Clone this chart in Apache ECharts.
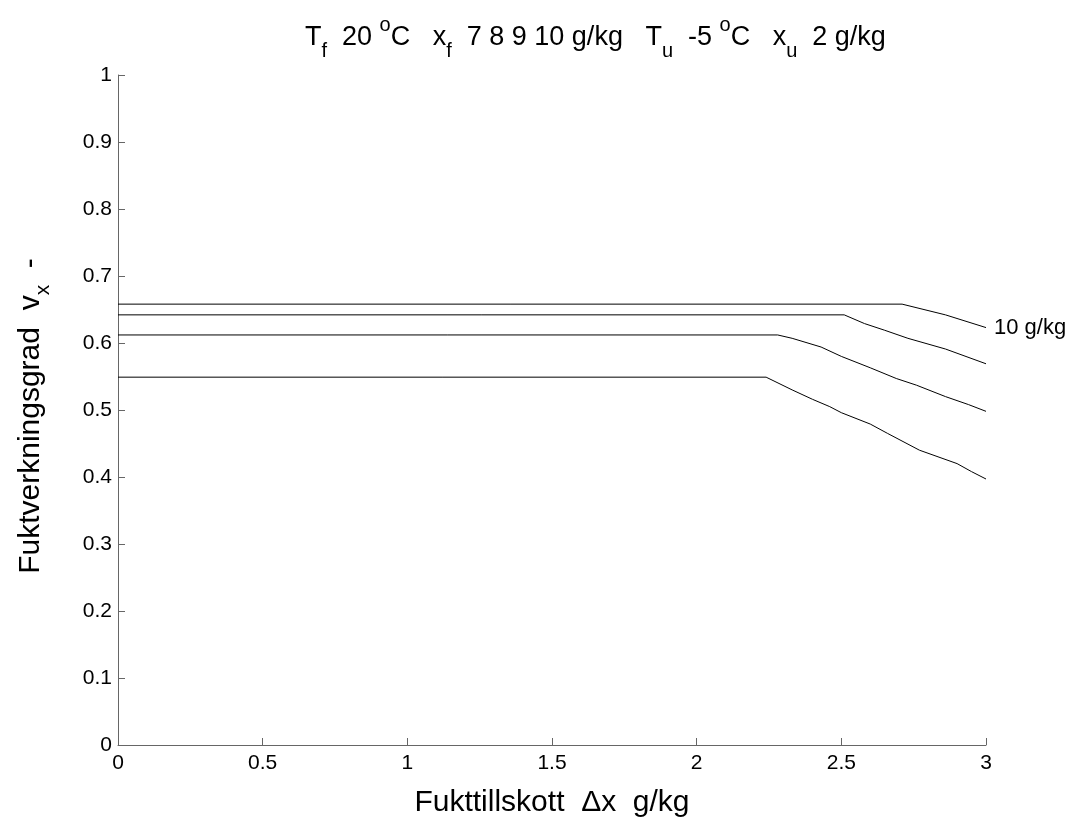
<!DOCTYPE html>
<html>
<head>
<meta charset="utf-8">
<script src="https://cdn.jsdelivr.net/npm/echarts@6/dist/echarts.min.js"></script>
<style>
  html, body { margin: 0; padding: 0; background: #fff; }
  #chart { width: 1084px; height: 827px; }
</style>
</head>
<body>
<div id="chart"></div>
<script>
// x_f = 10, 9, 8, 7 g/kg (top to bottom)
const line10 = [[0, 0.658], [2.71, 0.658], [2.86, 0.642], [3, 0.623]];
const line9 = [[0, 0.642], [2.51, 0.642], [2.58, 0.629], [2.65, 0.619], [2.73, 0.607], [2.86, 0.591], [3, 0.569]];
const line8 = [[0, 0.612], [2.28, 0.612], [2.33, 0.607], [2.43, 0.594], [2.5, 0.58], [2.6, 0.563], [2.69, 0.547], [2.76, 0.537], [2.86, 0.52], [2.94, 0.508], [3, 0.498]];
const line7 = [[0, 0.549], [2.24, 0.549], [2.33, 0.53], [2.4, 0.516], [2.46, 0.505], [2.5, 0.496], [2.6, 0.479], [2.66, 0.465], [2.77, 0.44], [2.9, 0.42], [2.95, 0.408], [3, 0.397]];
const seriesNames = ['10 g/kg', '9 g/kg', '8 g/kg', '7 g/kg'];
const seriesData = [line10, line9, line8, line7];

const FONT = 'Liberation Sans, Arial, sans-serif';
const chart = echarts.init(document.getElementById('chart'));

const option = {
    backgroundColor: '#fff',
    animation: false,
    textStyle: { fontFamily: FONT, color: '#000' },
    title: {
        text: 'T{sub|f}  20 {sup|o}C   x{sub|f}  7 8 9 10 g/kg   T{sub|u}  -5 {sup|o}C   x{sub|u}  2 g/kg',
        left: 300,
        top: 10,
        textStyle: {
            fontFamily: FONT, fontSize: 27, fontWeight: 'normal', color: '#000', lineHeight: 46,
            rich: {
                sub: { fontFamily: FONT, fontSize: 20, verticalAlign: 'bottom', lineHeight: 46 },
                sup: { fontFamily: FONT, fontSize: 20, verticalAlign: 'top', lineHeight: 46 }
            }
        }
    },
    grid: { left: 118, right: 98, top: 75, bottom: 82 },
    xAxis: {
        type: 'value', min: 0, max: 3, interval: 0.5,
        name: 'Fukttillskott  Δx  g/kg', nameLocation: 'middle', nameGap: 43,
        nameTextStyle: { fontFamily: FONT, fontSize: 30, color: '#000' },
        axisLine: { show: true, lineStyle: { color: '#666', width: 1 } },
        axisTick: { show: true, inside: true, length: 7, lineStyle: { color: '#666' } },
        axisLabel: { fontFamily: FONT, fontSize: 21, color: '#000', margin: 8 },
        splitLine: { show: false }
    },
    yAxis: {
        type: 'value', min: 0, max: 1, interval: 0.1,
        name: 'Fuktverkningsgrad  v{sub|x}  -', nameLocation: 'middle', nameGap: 64, nameRotate: 90,
        nameTextStyle: {
            fontFamily: FONT, fontSize: 30, color: '#000', lineHeight: 46, padding: [0, 12, 0, 0],
            rich: { sub: { fontFamily: FONT, fontSize: 21, verticalAlign: 'bottom', lineHeight: 46 } }
        },
        axisLine: { show: true, lineStyle: { color: '#666', width: 1 } },
        axisTick: { show: true, inside: true, length: 7, lineStyle: { color: '#666' } },
        axisLabel: { fontFamily: FONT, fontSize: 21, color: '#000', margin: 6 },
        splitLine: { show: false }
    },
    series: seriesData.map((d, i) => ({
        name: seriesNames[i],
        type: 'line',
        data: d,
        showSymbol: false,
        symbol: 'none',
        lineStyle: { color: '#000', width: 1 },
        endLabel: i === 0 ? { show: true, formatter: seriesNames[0], fontFamily: FONT, fontSize: 22, color: '#000', distance: 8 } : { show: false }
    }))
};
chart.setOption(option);
</script>
</body>
</html>
